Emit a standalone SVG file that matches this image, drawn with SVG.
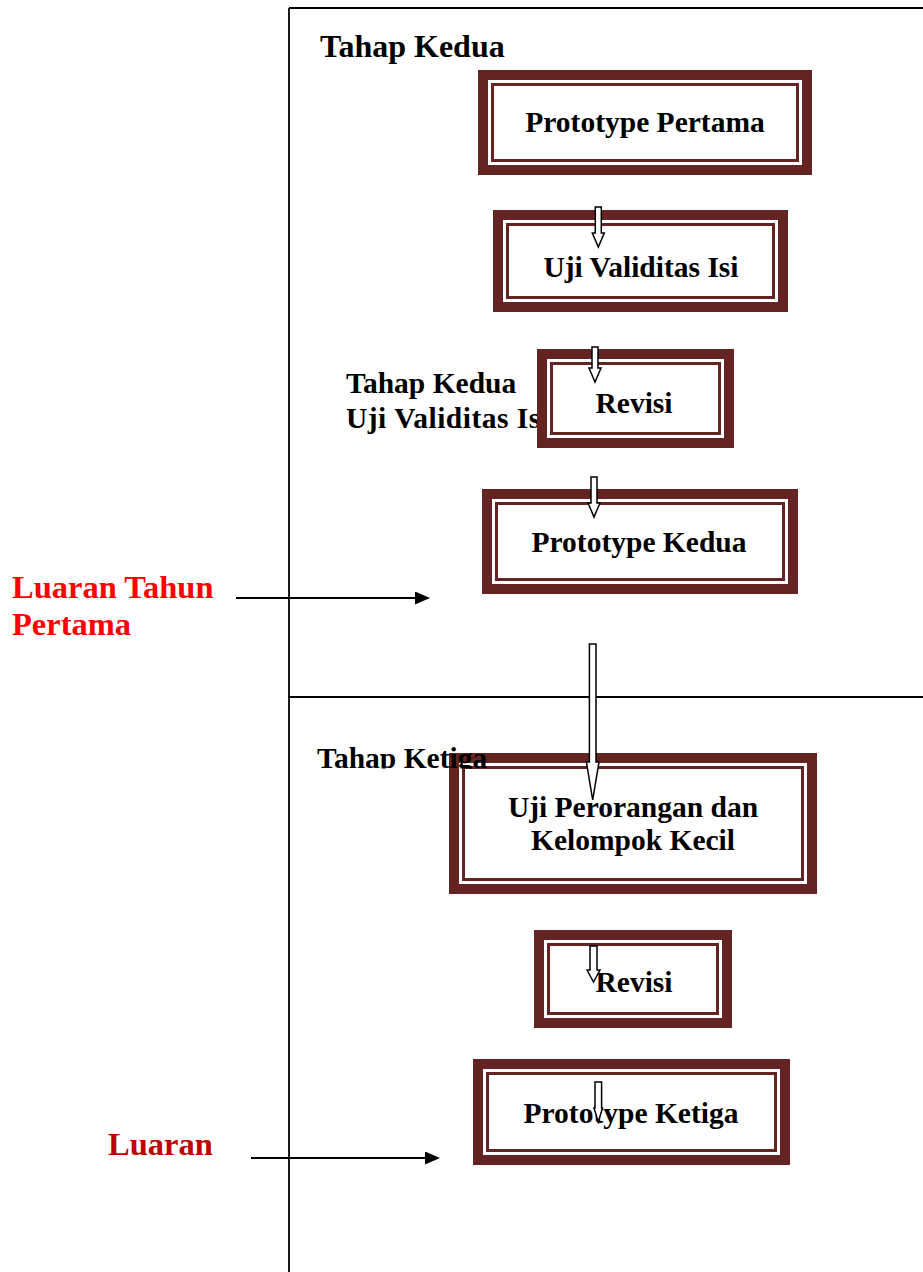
<svg xmlns="http://www.w3.org/2000/svg" width="923" height="1272" viewBox="0 0 923 1272">
  <defs>
    <style>
      .frame { stroke: #000; stroke-width: 1.8; fill: none; }
      .band { fill: #fff; stroke: #652424; stroke-width: 10; }
      .inner { fill: none; stroke: #652424; stroke-width: 3; }
      .t { font-family: "Liberation Serif", "Times New Roman", serif; font-weight: bold; font-size: 29.5px; fill: #000; }
      .head { font-size: 32px; }
      .mid { text-anchor: middle; }
      .red { fill: #ff0000; font-size: 32.5px; }
      .dred { fill: #c00000; font-size: 32.5px; }
      .block { fill: #fff; stroke: #000; stroke-width: 1.5; stroke-linejoin: miter; }
      .link { stroke: #000; stroke-width: 2; fill: none; }
    </style>
    <marker id="ah" markerWidth="15" markerHeight="13" refX="9" refY="6.5" orient="auto" markerUnits="userSpaceOnUse">
      <path d="M0,0 L15,6.5 L0,13 Z" fill="#000"/>
    </marker>
    <clipPath id="clipKetiga">
      <rect x="300" y="700" width="400" height="68.5"/>
    </clipPath>
  </defs>

  <!-- stage frame -->
  <g id="frame">
    <line class="frame" x1="289" y1="8" x2="923" y2="8"/>
    <line class="frame" x1="289" y1="8" x2="289" y2="1272"/>
    <line class="frame" x1="289" y1="697" x2="923" y2="697"/>
  </g>

  <!-- headings and side labels -->
  <g id="labels">
    <text class="t head" x="320" y="57">Tahap Kedua</text>
    <text class="t" x="346" y="393">Tahap Kedua</text>
    <text class="t" x="346" y="428" font-size="30" textLength="203">Uji Validitas Isi</text>
    <text class="t red" x="12" y="598">Luaran Tahun</text>
    <text class="t red" x="12" y="635">Pertama</text>
    <text class="t dred" x="108" y="1155">Luaran</text>
  </g>

  <g id="node-prototype-pertama">
    <rect class="band" x="483" y="75" width="324" height="95"/>
    <rect class="inner" x="492.5" y="84.5" width="305" height="76"/>
    <text class="t mid" x="645" y="132">Prototype Pertama</text>
  </g>

  <g id="node-uji-validitas">
    <rect class="band" x="498" y="215" width="285" height="92"/>
    <rect class="inner" x="507.5" y="224.5" width="266" height="73"/>
    <text class="t mid" x="641" y="277">Uji Validitas Isi</text>
  </g>

  <g id="node-revisi-1">
    <rect class="band" x="542" y="354" width="187" height="89"/>
    <rect class="inner" x="551.5" y="363.5" width="168" height="70"/>
    <text class="t mid" x="634" y="413">Revisi</text>
  </g>

  <g id="node-prototype-kedua">
    <rect class="band" x="487" y="494" width="306" height="95"/>
    <rect class="inner" x="496.5" y="503.5" width="287" height="76"/>
    <text class="t mid" x="639" y="552">Prototype Kedua</text>
  </g>

  <g id="node-uji-perorangan">
    <rect class="band" x="454" y="758" width="358" height="131"/>
    <rect class="inner" x="463.5" y="767.5" width="339" height="112"/>
    <text class="t mid" x="633" y="817">Uji Perorangan dan</text>
    <text class="t mid" x="633" y="850">Kelompok Kecil</text>
  </g>

  <text class="t" x="317" y="768" font-size="30.5" clip-path="url(#clipKetiga)">Tahap Ketiga</text>

  <g id="node-revisi-2">
    <rect class="band" x="539" y="935" width="188" height="88"/>
    <rect class="inner" x="548.5" y="944.5" width="169" height="69"/>
    <text class="t mid" x="634" y="992">Revisi</text>
  </g>

  <g id="node-prototype-ketiga">
    <rect class="band" x="478" y="1064" width="307" height="96"/>
    <rect class="inner" x="487.5" y="1073.5" width="288" height="77"/>
    <text class="t mid" x="631" y="1123">Prototype Ketiga</text>
  </g>

  <!-- connectors -->
  <g id="connectors">
    <path class="block" d="M595.3,207 H601.3 V233 H604.3 L598.3,247 L592.3,233 H595.3 Z"/>
    <path class="block" d="M592,347 H598 V368 H601 L595,382 L589,368 H592 Z"/>
    <path class="block" d="M591,477 H597 V503 H600 L594,517 L588,503 H591 Z"/>
    <path class="block" d="M589.4,644 H596 V762 H599 L592.7,800 L586.4,762 H589.4 Z"/>
    <path class="block" d="M590,946 H597 V970 H600 L593.5,982 L587,970 H590 Z"/>
    <path class="block" d="M595,1082 H601.6 V1108 H602.5 L598.3,1122 L594,1108 H595 Z"/>
    <line class="link" x1="236" y1="598" x2="424" y2="598" marker-end="url(#ah)"/>
    <line class="link" x1="251" y1="1158" x2="434" y2="1158" marker-end="url(#ah)"/>
  </g>
</svg>
